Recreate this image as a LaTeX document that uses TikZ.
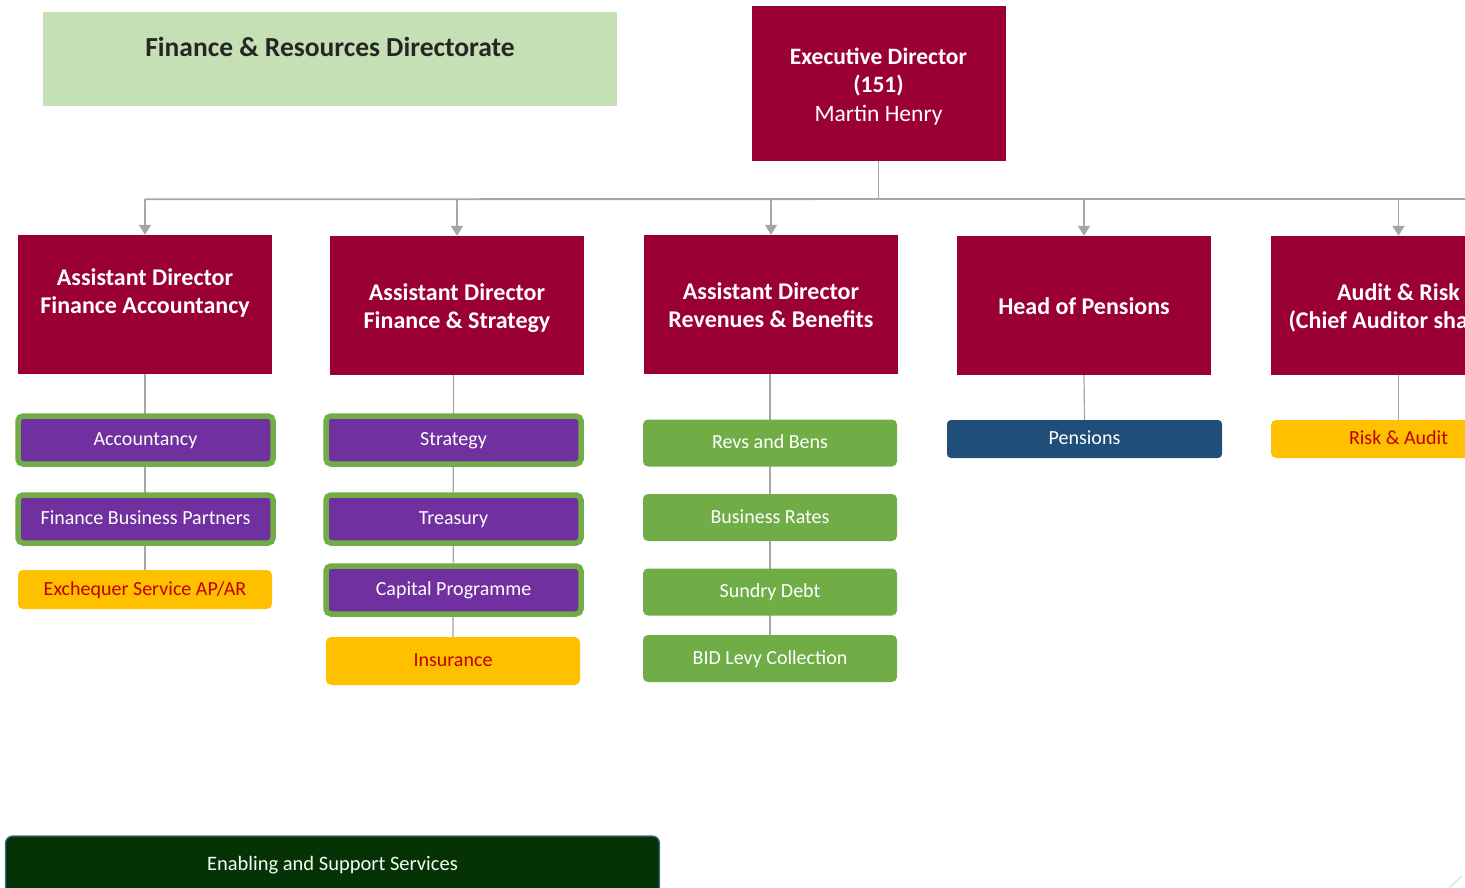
\documentclass[tikz,border=0pt]{standalone}
\usepackage{fontspec}
\setmainfont{Carlito}
\usetikzlibrary{arrows.meta,backgrounds,calc}

\definecolor{crimson}{HTML}{9B0033}
\definecolor{titlegreen}{HTML}{C5E0B4}
\definecolor{unitpurple}{HTML}{7030A0}
\definecolor{unitgreen}{HTML}{70AD47}
\definecolor{unityellow}{HTML}{FFC000}
\definecolor{unitred}{HTML}{C00000}
\definecolor{unitnavy}{HTML}{1F4E79}
\definecolor{barGreen}{HTML}{063306}
\definecolor{barEdge}{HTML}{3F6E8E}
\definecolor{linkgray}{HTML}{A6A6A6}

\tikzset{
  head/.style={fill=crimson, inner sep=0pt, minimum width=254, minimum height=139},
  headtext/.style={text=white, inner sep=0pt, align=center,
    font=\fontsize{24}{28}\selectfont\bfseries},
  unit/.style={inner sep=0pt, text height=1.16em, text depth=0em,
    font=\fontsize{20}{22}\selectfont},
  purplebox/.style={unit, fill=unitpurple, draw=unitgreen, line width=5.5pt,
    rounded corners=5pt, text=white, minimum width=255, minimum height=48},
  greenbox/.style={unit, fill=unitgreen, rounded corners=5pt, text=white,
    minimum width=254, minimum height=47},
  yellowbox/.style={unit, fill=unityellow, rounded corners=5pt, text=unitred,
    minimum width=254},
  navybox/.style={unit, fill=unitnavy, rounded corners=4pt, text=white,
    minimum width=275, minimum height=38},
  link/.style={draw=linkgray, line width=1.8pt},
  feed/.style={link, -{Triangle[width=12pt,length=10pt]}, color=linkgray},
}

\begin{document}
\begin{tikzpicture}[x=1pt, y=-1pt]
\useasboundingbox (0,0) rectangle (1465,888);
\clip (0,0) rectangle (1465,888);

% title panel
\node[fill=titlegreen, inner sep=0pt, minimum width=574, minimum height=94]
  (title) at (330,59) {};
\node[inner sep=0pt, text height=0.72em, text depth=0.2em,
  font=\fontsize{27.5}{30}\selectfont\bfseries, text=black!85]
  (titletext) at ($(title.center)+(0,-5)$) {Finance \& Resources Directorate};

% executive director
\node[head, minimum height=155] (exec) at (878.5,83.5) {};
\node[headtext, font=\fontsize{23.5}{28.5}\selectfont] (exectext)
  at ($(exec.center)+(0,3)$)
  {\textbf{Executive Director}\\\textbf{(151)}\\Martin Henry};

% second tier
\node[head] (adfa) at (145,304.5) {};
\node[headtext] (adfatext) at ($(adfa.center)+(0,-12)$)
  {Assistant Director\\Finance Accountancy};
\node[head] (adfs) at (457,305.5) {};
\node[headtext] (adfstext) at ($(adfs.center)+(0,3)$)
  {Assistant Director\\Finance \& Strategy};
\node[head] (adrb) at (771,304.5) {};
\node[headtext] (adrbtext) at ($(adrb.center)+(0,1)$)
  {Assistant Director\\Revenues \& Benefits};
\node[head] (hop) at (1084,305.5) {};
\node[headtext] (hoptext) at ($(hop.center)+(0,1)$) {Head of Pensions};
\node[head, minimum width=255] (ar) at (1398.5,305.5) {};
\node[headtext] (artext) at ($(ar.center)+(0,2)$)
  {Audit \& Risk\\(Chief Auditor shared)};

% units under Finance Accountancy
\node[purplebox] (acc) at (145.5,440) {Accountancy};
\node[purplebox] (fbp) at (145.5,519) {Finance Business Partners};
\node[yellowbox, minimum height=39] (exq) at (145,589.5) {Exchequer Service AP/AR};

% units under Finance & Strategy
\node[purplebox] (str) at (453.5,440) {Strategy};
\node[purplebox] (tre) at (453.5,519) {Treasury};
\node[purplebox] (cap) at (453.5,590) {Capital Programme};
\node[yellowbox, minimum height=48] (ins) at (453,661) {Insurance};

% units under Revenues & Benefits
\node[greenbox] (rab) at (770,443) {Revs and Bens};
\node[greenbox] (bra) at (770,517.5) {Business Rates};
\node[greenbox] (sdb) at (770,592) {Sundry Debt};
\node[greenbox] (bid) at (770,658.5) {BID Levy Collection};

% units under Pensions and Audit
\node[navybox] (pen) at (1084.5,439) {Pensions};
\node[yellowbox, minimum height=38, minimum width=255] (raa) at (1398.5,439)
  {Risk \& Audit};

% enabling services bar
\node[unit, fill=barGreen, draw=barEdge, line width=1.2pt, rounded corners=7pt,
  minimum width=654, minimum height=58, text=green!5,
  font=\fontsize{20.5}{22}\selectfont] (ess) at (332.5,865) {Enabling and Support Services};

% connectors
\begin{scope}[on background layer]
  \coordinate (bus) at ($(exec.south)+(0,38)$);
  \coordinate (busend) at (1480,199);
  \draw[link] (exec.south) -- (bus);
  \draw[link] (adfa.north |- bus) -- (busend);
  \foreach \n in {adfa,adfs,adrb,hop,ar}
    \draw[feed] (\n.north |- bus) -- (\n.north);
  \draw[link, line width=1.2pt] (adfa.south) -- (exq.north);
  \draw[link, line width=1.2pt] (adfs.south -| str.north) -- (ins.north);
  \draw[link, line width=1.2pt] (adrb.south -| rab.north) -- (bid.north);
  \draw[link, line width=1.2pt] (hop.south) -- (pen.north);
  \draw[link, line width=1.2pt] (ar.south) -- (raa.north);
\end{scope}

% corner mark
\coordinate (cmA) at (1449,888);
\coordinate (cmB) at (1462,876);
\draw[cyan!25!green!20, line width=1.5pt] (cmA) -- (cmB);
\end{tikzpicture}
\end{document}
